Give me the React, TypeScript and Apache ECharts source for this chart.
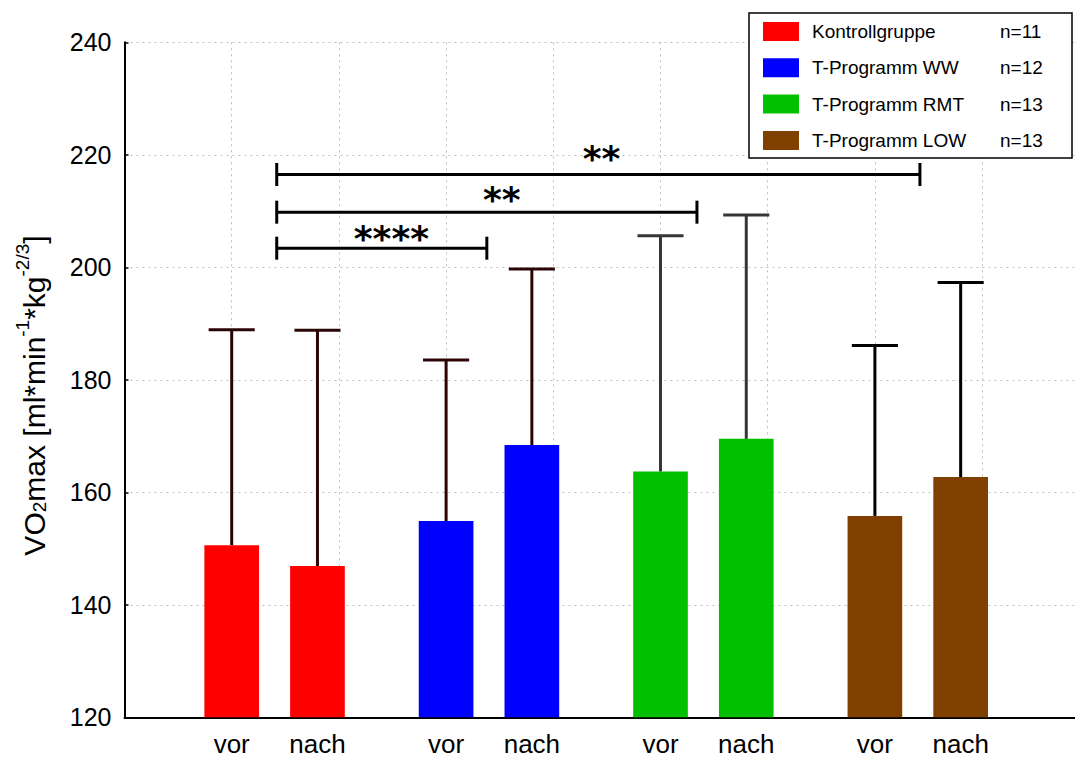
import React, { useEffect, useRef } from "react";
import * as echarts from "echarts";

// Groups, sample sizes and colours
const groups = ["Kontrollgruppe", "T-Programm WW", "T-Programm RMT", "T-Programm LOW"];
const groupN = ["n=11", "n=12", "n=13", "n=13"];
const groupColors = ["#ff0000", "#0000ff", "#00c000", "#804000"];
const errColors = ["#2b0505", "#2b0505", "#363636", "#000000"];

// Measurement times and bar positions on the x scale
const timeLabels = ["vor", "nach"];
const barPositions = [
  [1, 1.8],
  [3, 3.8],
  [5, 5.8],
  [7, 7.8],
];

// Mean VO2max and upper end of the error bar (mean + SD)
const means = [
  [150.6, 146.9],
  [154.9, 168.4],
  [163.7, 169.5],
  [155.8, 162.7],
];
const upperErr = [
  [188.9, 188.8],
  [183.5, 199.7],
  [205.6, 209.3],
  [186.1, 197.3],
];

// Significance brackets
const sigFrom = [1.42, 1.42, 1.42];
const sigTo = [3.38, 5.34, 7.42];
const sigLevel = [203.4, 209.8, 216.5];
const sigLabels = ["****", "**", "**"];
const sigLabelX = [2.49, 3.52, 4.45];
const sigLabelY = [205.1, 212.0, 219.3];

// Value axis
const yMin = 120;
const yMax = 240;
const yStep = 20;
const xMin = 0;
const xMax = 9;

const BAR_W = 0.51;
const CAP_W = 0.43;
const FONT = "'Liberation Sans', Arial, sans-serif";

export default function App() {
  const ref = useRef<HTMLDivElement>(null);

  useEffect(() => {
    if (!ref.current) return;
    const chart = echarts.init(ref.current, undefined, { renderer: "svg" });

    const gridLine = { show: true, lineStyle: { color: "#bdbdbd", type: [2, 4], width: 1 } };

    const groupSeries = groups.map((name, g) => ({
      type: "custom",
      name,
      itemStyle: { color: groupColors[g] },
      encode: { x: 0, y: [1, 2] },
      data: barPositions[g].map((x, i) => [x, means[g][i], upperErr[g][i], i]),
      renderItem: (params: any, api: any) => {
        const x = api.value(0);
        const m = api.value(1);
        const u = api.value(2);
        const t = api.value(3);
        const base = api.coord([x, yMin]);
        const top = api.coord([x, m]);
        const errTop = api.coord([x, u]);
        const left = api.coord([x - BAR_W / 2, m])[0];
        const right = api.coord([x + BAR_W / 2, m])[0];
        const capL = api.coord([x - CAP_W / 2, u])[0];
        const capR = api.coord([x + CAP_W / 2, u])[0];
        return {
          type: "group",
          children: [
            {
              type: "rect",
              shape: { x: left, y: top[1], width: right - left, height: base[1] - top[1] },
              style: { fill: groupColors[g] },
            },
            {
              type: "line",
              shape: { x1: top[0], y1: top[1], x2: errTop[0], y2: errTop[1] },
              style: { stroke: errColors[g], lineWidth: 3 },
            },
            {
              type: "line",
              shape: { x1: capL, y1: errTop[1], x2: capR, y2: errTop[1] },
              style: { stroke: errColors[g], lineWidth: 3 },
            },
            {
              type: "text",
              x: base[0],
              y: base[1] + 14,
              style: {
                text: timeLabels[t],
                fontSize: 26,
                fontFamily: FONT,
                fill: "#000",
                align: "center",
                verticalAlign: "top",
              },
            },
          ],
        };
      },
    }));

    const sigSeries = {
      type: "custom",
      encode: { x: [0, 1, 3], y: [2, 4] },
      data: sigFrom.map((f, i) => [f, sigTo[i], sigLevel[i], sigLabelX[i], sigLabelY[i], i]),
      renderItem: (params: any, api: any) => {
        const p1 = api.coord([api.value(0), api.value(2)]);
        const p2 = api.coord([api.value(1), api.value(2)]);
        const lp = api.coord([api.value(3), api.value(4)]);
        const idx = api.value(5);
        const h = 11.5;
        const stroke = { stroke: "#000", lineWidth: 3 };
        return {
          type: "group",
          children: [
            { type: "line", shape: { x1: p1[0], y1: p1[1], x2: p2[0], y2: p2[1] }, style: stroke },
            { type: "line", shape: { x1: p1[0], y1: p1[1] - h, x2: p1[0], y2: p1[1] + h }, style: stroke },
            { type: "line", shape: { x1: p2[0], y1: p2[1] - h, x2: p2[0], y2: p2[1] + h }, style: stroke },
            {
              type: "text",
              x: lp[0],
              y: lp[1],
              style: {
                text: sigLabels[idx],
                fontSize: 36,
                fontWeight: "bold",
                fontFamily: "'DejaVu Sans', sans-serif",
                fill: "#000",
                align: "center",
                verticalAlign: "middle",
              },
            },
          ],
        };
      },
    };

    const option: any = {
      animation: false,
      backgroundColor: "#ffffff",
      textStyle: { fontFamily: FONT },
      grid: { left: 124.5, top: 42.3, width: 964.8, height: 675 },
      xAxis: {
        type: "value",
        min: xMin,
        max: xMax,
        interval: 1,
        axisLabel: { show: false },
        axisTick: { show: false },
        axisLine: { show: true, lineStyle: { color: "#000", width: 2 } },
        splitLine: gridLine,
      },
      yAxis: {
        type: "value",
        min: yMin,
        max: yMax,
        interval: yStep,
        axisLabel: { fontSize: 25, color: "#000", margin: 13, fontFamily: FONT },
        axisTick: { show: true, inside: true, length: 4, lineStyle: { color: "#000", width: 1.5 } },
        axisLine: { show: true, lineStyle: { color: "#000", width: 2 } },
        splitLine: gridLine,
      },
      legend: {
        data: groups,
        orient: "vertical",
        left: 749,
        top: 13,
        padding: [9, 12, 8, 14],
        itemWidth: 36,
        itemHeight: 19,
        itemGap: 17.3,
        icon: "rect",
        selectedMode: false,
        backgroundColor: "#fff",
        borderColor: "#000",
        borderWidth: 1.5,
        borderRadius: 0,
        z: 10,
        formatter: (name: string) => `{s|}{a|${name}}{b|${groupN[groups.indexOf(name)]}}`,
        textStyle: {
          fontFamily: FONT,
          fontSize: 19,
          color: "#000",
          rich: {
            s: { width: 8, lineHeight: 19 },
            a: { width: 188, fontSize: 19, lineHeight: 19, fontFamily: FONT, color: "#000" },
            b: { width: 60, fontSize: 19, lineHeight: 19, fontFamily: FONT, color: "#000" },
          },
        },
      },
      graphic: [
        {
          type: "text",
          x: 31,
          y: 395.5,
          rotation: Math.PI / 2,
          style: {
            text: "{m|VO}{sub|2}{m|max [ml*min}{sup|-1}{m|*kg}{sup|-2/3}{m|]}",
            align: "center",
            verticalAlign: "middle",
            fill: "#000",
            rich: {
              m: { fontSize: 30, lineHeight: 36, verticalAlign: "bottom", fontFamily: FONT, fill: "#000" },
              sup: { fontSize: 19, lineHeight: 19, padding: [0, 0, 24, 0], verticalAlign: "top", fontFamily: FONT, fill: "#000" },
              sub: { fontSize: 19, lineHeight: 19, padding: [0, 0, 0, 0], verticalAlign: "bottom", fontFamily: FONT, fill: "#000" },
            },
          },
        },
      ],
      series: [...groupSeries, sigSeries],
    };

    chart.setOption(option);
    return () => chart.dispose();
  }, []);

  return (
    <div
      style={{ position: "fixed", left: 0, top: 0, width: 1075, height: 758, overflow: "hidden", background: "#fff" }}
    >
      <div ref={ref} style={{ width: 1100, height: 758 }} />
    </div>
  );
}
